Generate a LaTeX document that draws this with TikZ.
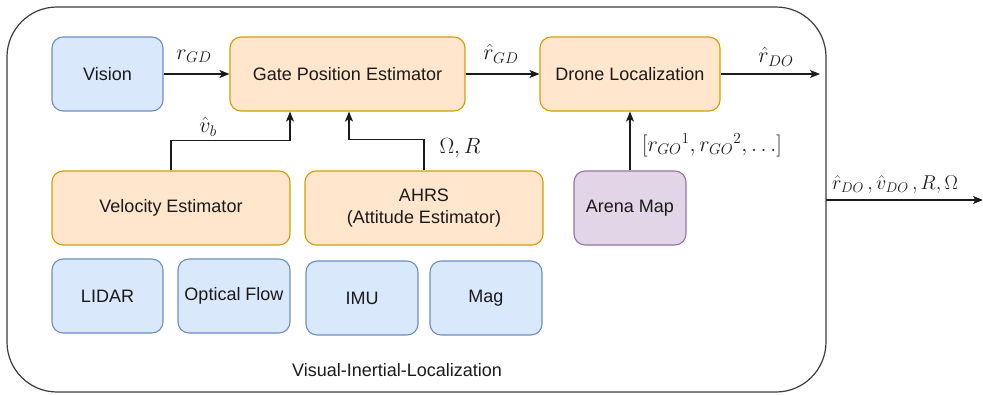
\RequirePackage{fix-cm}
\documentclass[tikz,border=0pt]{standalone}
\usepackage{fontspec}
\setmainfont{Liberation Sans}
\usetikzlibrary{arrows.meta}

\definecolor{bfill}{HTML}{DAE8FC}
\definecolor{bdraw}{HTML}{6C8EBF}
\definecolor{ofill}{HTML}{FFE6CC}
\definecolor{odraw}{HTML}{D79B00}
\definecolor{pfill}{HTML}{E1D5E7}
\definecolor{pdraw}{HTML}{9673A6}
\definecolor{ink}{HTML}{1A1A1A}

\tikzset{
  box/.style={draw, rounded corners=11pt, line width=1.1pt, inner sep=0pt,
    align=center, text=ink, font=\fontsize{18}{22}\selectfont},
  bluebox/.style={box, fill=bfill, draw=bdraw},
  orangebox/.style={box, fill=ofill, draw=odraw},
  purplebox/.style={box, fill=pfill, draw=pdraw},
  flow/.style={draw=ink, line width=1.2pt, -{Stealth[length=10pt,width=8pt,inset=2.5pt]}},
  lbl/.style={text=ink, font=\fontsize{18}{22}\selectfont, inner sep=1pt},
  mlbl/.style={text=ink, font=\fontsize{22}{26}\selectfont, inner sep=1pt}
}

\begin{document}
\begin{tikzpicture}[x=1pt, y=-1pt]
\useasboundingbox (0,0) rectangle (983,394);

% outer container
\draw[draw=ink!85, line width=1.2pt, rounded corners=50pt] (7,7) rectangle (826,392);
\node[lbl] (vil) at (397,370) {Visual-Inertial-Localization};

% top row
\node[bluebox, minimum width=111pt, minimum height=74pt] (vision) at (107.5,74) {Vision};
\node[orangebox, minimum width=235pt, minimum height=74pt] (gpe) at (347.5,74) {Gate Position Estimator};
\node[orangebox, minimum width=180pt, minimum height=74pt] (dl) at (630,74) {Drone Localization};

% estimators
\node[orangebox, minimum width=238pt, minimum height=74pt] (vel) at (171,208) {Velocity Estimator};
\node[orangebox, minimum width=238pt, minimum height=74pt] (ahrs) at (424,208) {AHRS\\(Attitude Estimator)};
\node[purplebox, minimum width=112pt, minimum height=74pt] (arena) at (630,208) {Arena Map};

% sensors
\node[bluebox, minimum width=111pt, minimum height=74pt] (lidar) at (107.5,296) {LIDAR};
\node[bluebox, minimum width=112pt, minimum height=74pt] (oflow) at (234,296) {Optical Flow};
\node[bluebox, minimum width=112pt, minimum height=74pt] (imu) at (362,298) {IMU};
\node[bluebox, minimum width=112pt, minimum height=74pt] (mag) at (486,298) {Mag};

% output ends
\coordinate (dlout) at (820,74);
\coordinate (sysout) at (983,200);
\coordinate (sysin) at (826,200);

% connectors
\draw[flow] (vel.north) -- ++(0,-30) -| (gpe.south -| 290,0);
\draw[flow] (ahrs.north) -- ++(0,-31) -| (gpe.south -| 349,0);
\draw[flow] (vision) -- (gpe);
\draw[flow] (gpe) -- (dl);
\draw[flow] (dl) -- (dlout);
\draw[flow] (arena) -- (dl);
\draw[flow] (sysin) -- (sysout);

% signal labels
\node[mlbl] (lrgd) at (194,56) {$r_{GD}$};
\node[mlbl] (lhrgd) at (501,54) {$\hat{r}_{GD}$};
\node[mlbl] (lhrdo) at (776,57) {$\hat{r}_{DO}$};
\node[mlbl] (lvb) at (208,127) {$\hat{v}_b$};
\node[mlbl] (lom) at (460,148) {$\Omega, R$};
\node[mlbl] (lmap) at (712,145) {$[{r_{GO}}^1, {r_{GO}}^2, \ldots]$};
\node[mlbl, font=\fontsize{20}{24}\selectfont] (lout) at (895,184) {$\hat{r}_{DO}\,, \hat{v}_{DO}\,, R, \Omega$};
\end{tikzpicture}
\end{document}
